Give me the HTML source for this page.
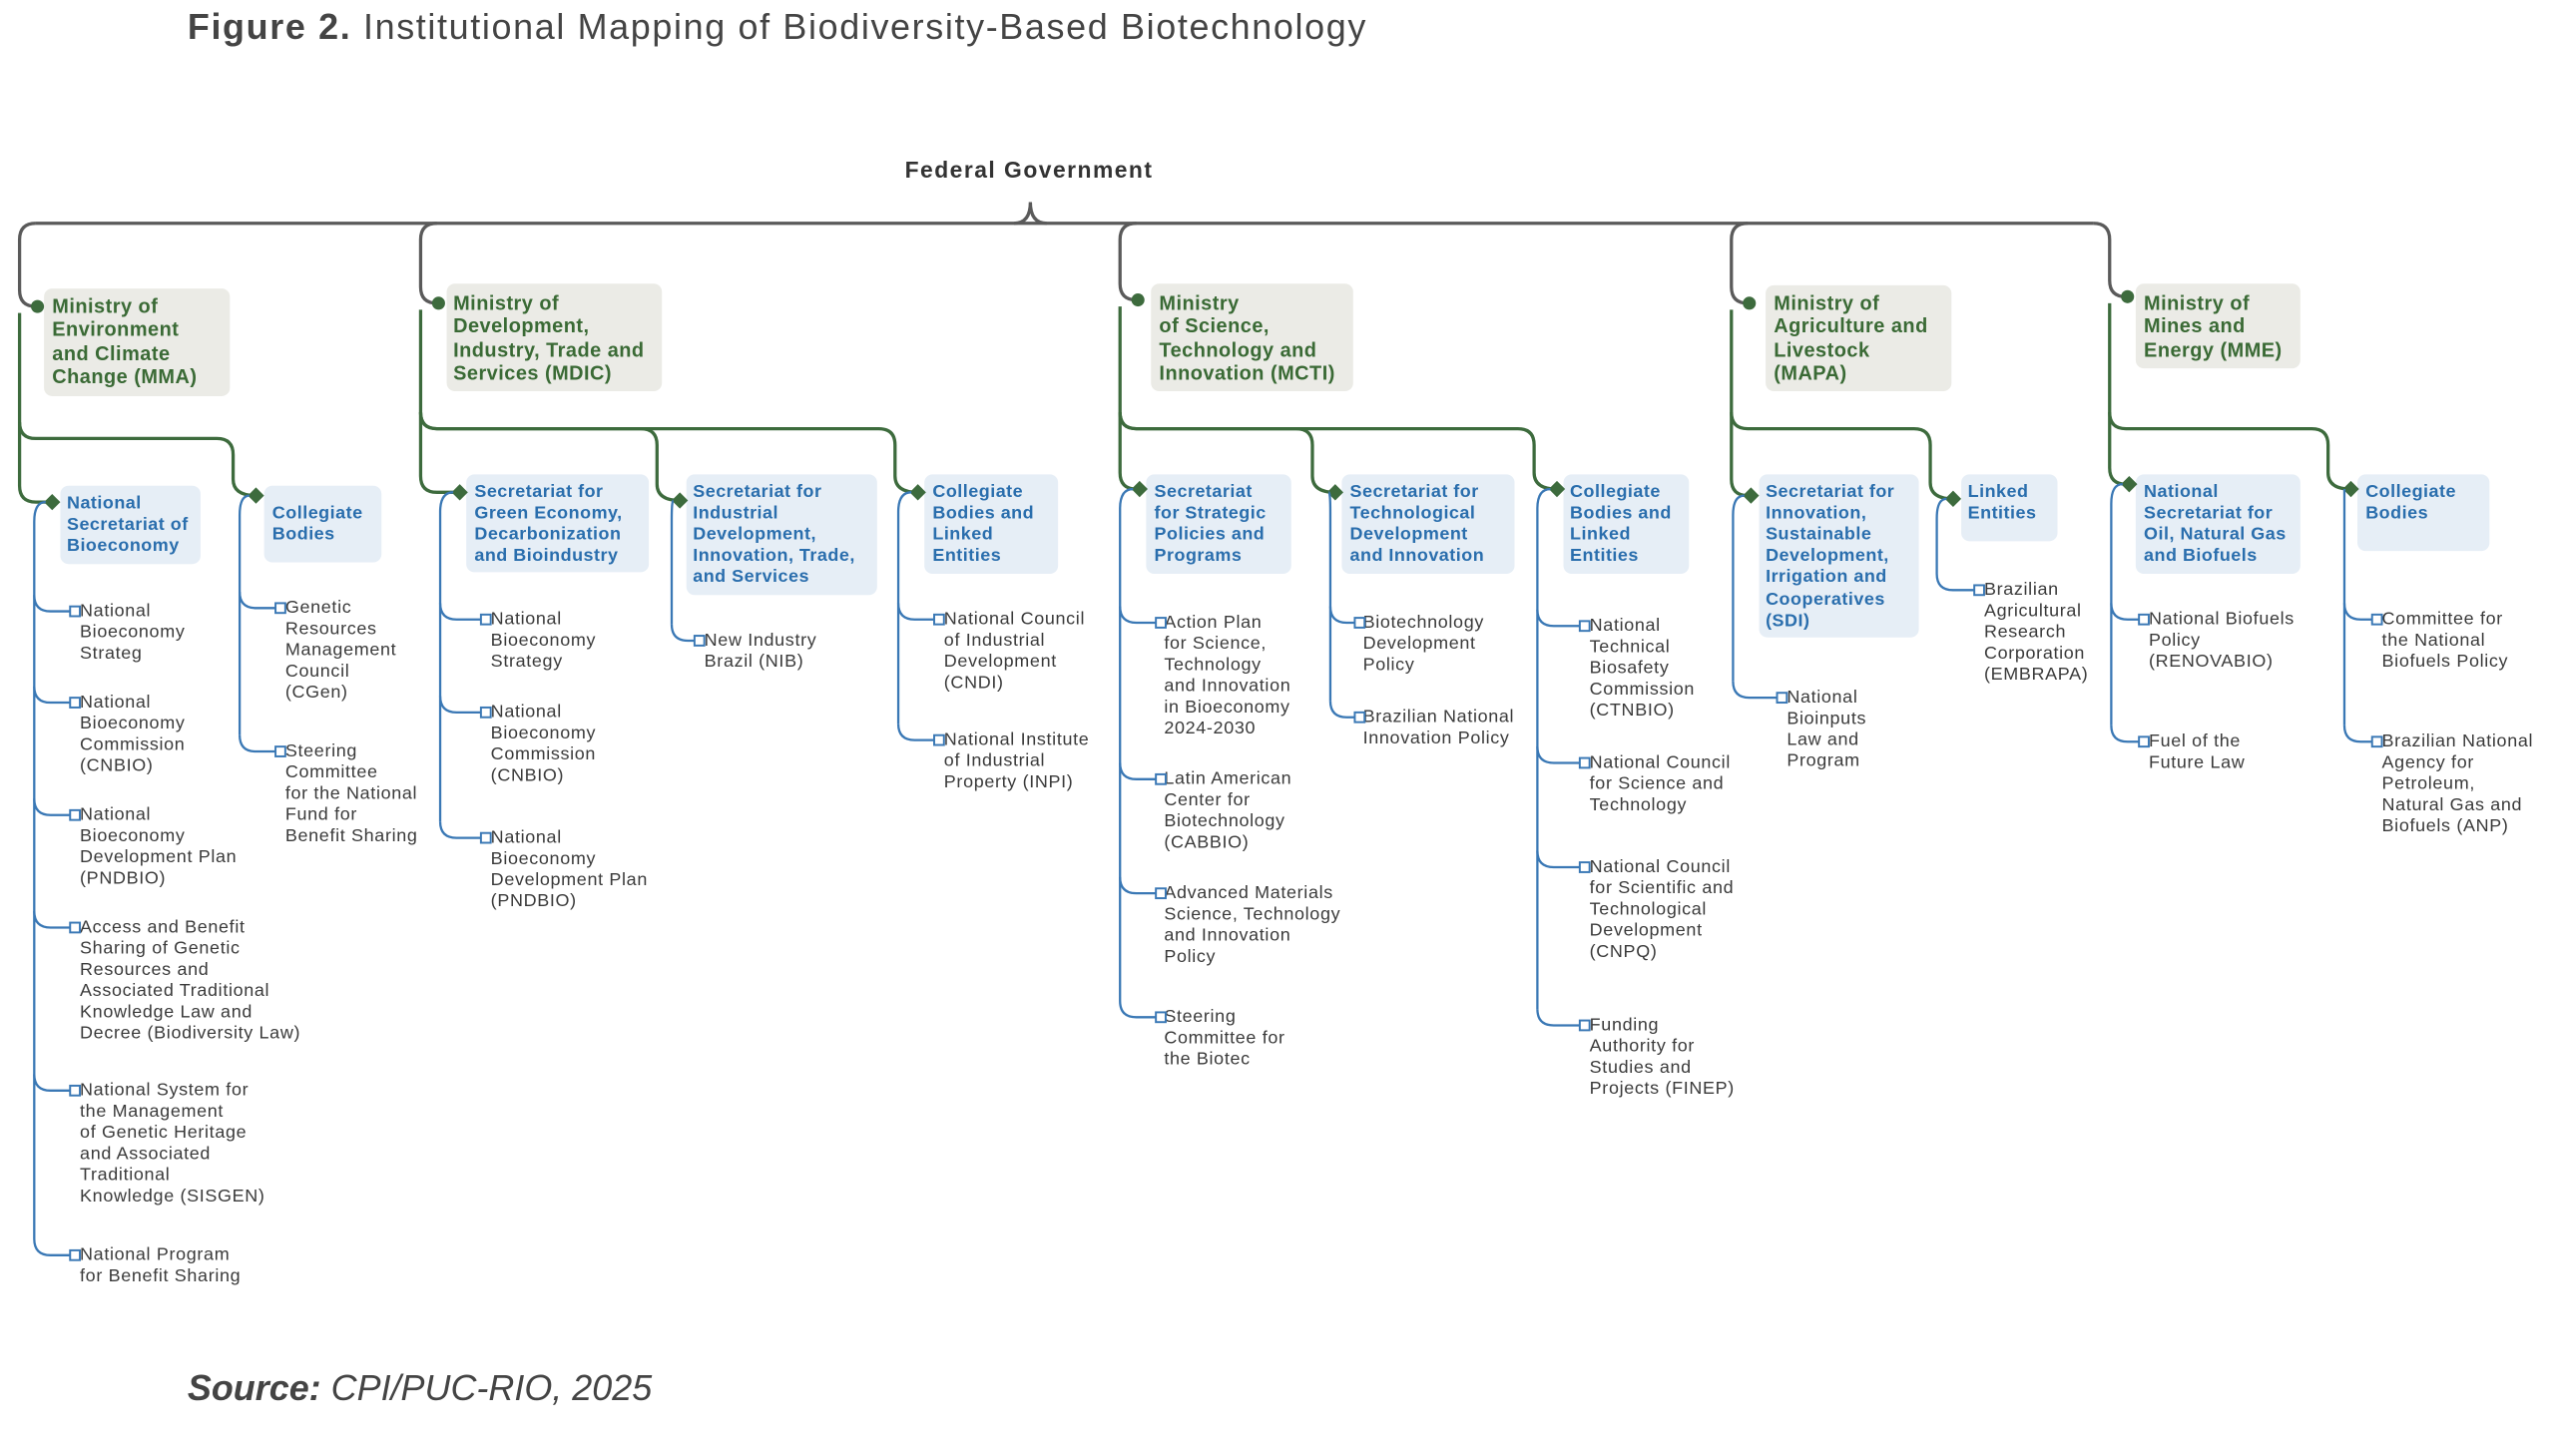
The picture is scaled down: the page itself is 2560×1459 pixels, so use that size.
<!DOCTYPE html>
<html><head><meta charset="utf-8"><style>
html,body{margin:0;padding:0;background:#fff;}
body{width:2560px;height:1458px;overflow:hidden;position:relative;}
#c{position:absolute;left:0;top:0;width:1567px;height:892.6px;transform:scale(1.6335);transform-origin:0 0;font-family:"Liberation Sans",sans-serif;}
#c svg{position:absolute;left:0;top:0;}
.t{position:absolute;white-space:nowrap;}
.m{position:absolute;background:#ebebe6;border-radius:5px;}
.s{position:absolute;background:#e6eef6;border-radius:5px;}
.mt{position:absolute;color:#3a6a35;font-weight:bold;font-size:12.2px;line-height:14.3px;white-space:nowrap;letter-spacing:0.3px;}
.st{position:absolute;color:#2a6ead;font-weight:bold;font-size:11px;line-height:13.2px;white-space:nowrap;letter-spacing:0.3px;}
.l{position:absolute;color:#3a3a3a;font-size:11px;line-height:13.1px;white-space:nowrap;letter-spacing:0.4px;}
</style></head><body><div id="c">
<div class="t" style="left:115px;top:4px;font-size:22px;color:#444;letter-spacing:1.0px;"><b>Figure 2.</b> <span style="font-weight:300;">Institutional Mapping of Biodiversity-Based Biotechnology</span></div>
<div class="t" style="left:555px;top:96px;font-size:14px;font-weight:bold;color:#333;letter-spacing:0.9px;">Federal Government</div>
<div class="t" style="left:115px;top:839px;font-size:22px;color:#444;font-style:italic;"><b>Source:</b> CPI/PUC-RIO, 2025</div>

<div class="m" style="left:27px;top:177px;width:114px;height:66px"></div>
<div class="m" style="left:274px;top:174px;width:132px;height:66px"></div>
<div class="m" style="left:706px;top:174px;width:124px;height:66px"></div>
<div class="m" style="left:1083px;top:175px;width:114px;height:65px"></div>
<div class="m" style="left:1310px;top:174px;width:101px;height:52px"></div>
<div class="mt" style="left:32px;top:181px">Ministry of<br>Environment<br>and Climate<br>Change (MMA)</div>
<div class="mt" style="left:278px;top:179px">Ministry of<br>Development,<br>Industry, Trade and<br>Services (MDIC)</div>
<div class="mt" style="left:711px;top:179px">Ministry<br>of Science,<br>Technology and<br>Innovation (MCTI)</div>
<div class="mt" style="left:1088px;top:179px">Ministry of<br>Agriculture and<br>Livestock<br>(MAPA)</div>
<div class="mt" style="left:1315px;top:179px">Ministry of<br>Mines and<br>Energy (MME)</div>

<div class="s" style="left:37px;top:298px;width:86px;height:48px"></div>
<div class="s" style="left:162px;top:298px;width:72px;height:47px"></div>
<div class="s" style="left:286px;top:291px;width:112px;height:60px"></div>
<div class="s" style="left:421px;top:291px;width:117px;height:74px"></div>
<div class="s" style="left:567px;top:291px;width:82px;height:61px"></div>
<div class="s" style="left:703px;top:291px;width:89px;height:61px"></div>
<div class="s" style="left:823px;top:291px;width:106px;height:61px"></div>
<div class="s" style="left:959px;top:291px;width:77px;height:61px"></div>
<div class="s" style="left:1079px;top:291px;width:98px;height:100px"></div>
<div class="s" style="left:1203px;top:291px;width:59px;height:41px"></div>
<div class="s" style="left:1310px;top:291px;width:101px;height:61px"></div>
<div class="s" style="left:1446px;top:291px;width:81px;height:47px"></div>

<div class="st" style="left:41px;top:302.5px">National<br>Secretariat of<br>Bioeconomy</div>
<div class="st" style="left:167px;top:308.5px">Collegiate<br>Bodies</div>
<div class="st" style="left:291px;top:295.5px">Secretariat for<br>Green Economy,<br>Decarbonization<br>and Bioindustry</div>
<div class="st" style="left:425px;top:295.5px">Secretariat for<br>Industrial<br>Development,<br>Innovation, Trade,<br>and Services</div>
<div class="st" style="left:572px;top:295.5px">Collegiate<br>Bodies and<br>Linked<br>Entities</div>
<div class="st" style="left:708px;top:295.5px">Secretariat<br>for Strategic<br>Policies and<br>Programs</div>
<div class="st" style="left:828px;top:295.5px">Secretariat for<br>Technological<br>Development<br>and Innovation</div>
<div class="st" style="left:963px;top:295.5px">Collegiate<br>Bodies and<br>Linked<br>Entities</div>
<div class="st" style="left:1083px;top:295.5px">Secretariat for<br>Innovation,<br>Sustainable<br>Development,<br>Irrigation and<br>Cooperatives<br>(SDI)</div>
<div class="st" style="left:1207px;top:295.5px">Linked<br>Entities</div>
<div class="st" style="left:1315px;top:295.5px">National<br>Secretariat for<br>Oil, Natural Gas<br>and Biofuels</div>
<div class="st" style="left:1451px;top:295.5px">Collegiate<br>Bodies</div>

<div class="l" style="left:49px;top:369px">National<br>Bioeconomy<br>Strateg</div>
<div class="l" style="left:49px;top:425px">National<br>Bioeconomy<br>Commission<br>(CNBIO)</div>
<div class="l" style="left:49px;top:494px">National<br>Bioeconomy<br>Development Plan<br>(PNDBIO)</div>
<div class="l" style="left:49px;top:563px">Access and Benefit<br>Sharing of Genetic<br>Resources and<br>Associated Traditional<br>Knowledge Law and<br>Decree (Biodiversity Law)</div>
<div class="l" style="left:49px;top:663px">National System for<br>the Management<br>of Genetic Heritage<br>and Associated<br>Traditional<br>Knowledge (SISGEN)</div>
<div class="l" style="left:49px;top:764px">National Program<br>for Benefit Sharing</div>
<div class="l" style="left:175px;top:367px">Genetic<br>Resources<br>Management<br>Council<br>(CGen)</div>
<div class="l" style="left:175px;top:455px">Steering<br>Committee<br>for the National<br>Fund for<br>Benefit Sharing</div>

<div class="l" style="left:301px;top:374px">National<br>Bioeconomy<br>Strategy</div>
<div class="l" style="left:301px;top:431px">National<br>Bioeconomy<br>Commission<br>(CNBIO)</div>
<div class="l" style="left:301px;top:508px">National<br>Bioeconomy<br>Development Plan<br>(PNDBIO)</div>
<div class="l" style="left:432px;top:387px">New Industry<br>Brazil (NIB)</div>
<div class="l" style="left:579px;top:374px">National Council<br>of Industrial<br>Development<br>(CNDI)</div>
<div class="l" style="left:579px;top:448px">National Institute<br>of Industrial<br>Property (INPI)</div>

<div class="l" style="left:714px;top:376px">Action Plan<br>for Science,<br>Technology<br>and Innovation<br>in Bioeconomy<br>2024-2030</div>
<div class="l" style="left:714px;top:472px">Latin American<br>Center for<br>Biotechnology<br>(CABBIO)</div>
<div class="l" style="left:714px;top:542px">Advanced Materials<br>Science, Technology<br>and Innovation<br>Policy</div>
<div class="l" style="left:714px;top:618px">Steering<br>Committee for<br>the Biotec</div>
<div class="l" style="left:836px;top:376px">Biotechnology<br>Development<br>Policy</div>
<div class="l" style="left:836px;top:434px">Brazilian National<br>Innovation Policy</div>
<div class="l" style="left:975px;top:378px">National<br>Technical<br>Biosafety<br>Commission<br>(CTNBIO)</div>
<div class="l" style="left:975px;top:462px">National Council<br>for Science and<br>Technology</div>
<div class="l" style="left:975px;top:526px">National Council<br>for Scientific and<br>Technological<br>Development<br>(CNPQ)</div>
<div class="l" style="left:975px;top:623px">Funding<br>Authority for<br>Studies and<br>Projects (FINEP)</div>

<div class="l" style="left:1096px;top:422px">National<br>Bioinputs<br>Law and<br>Program</div>
<div class="l" style="left:1217px;top:356px">Brazilian<br>Agricultural<br>Research<br>Corporation<br>(EMBRAPA)</div>
<div class="l" style="left:1318px;top:374px">National Biofuels<br>Policy<br>(RENOVABIO)</div>
<div class="l" style="left:1318px;top:449px">Fuel of the<br>Future Law</div>
<div class="l" style="left:1461px;top:374px">Committee for<br>the National<br>Biofuels Policy</div>
<div class="l" style="left:1461px;top:449px">Brazilian National<br>Agency for<br>Petroleum,<br>Natural Gas and<br>Biofuels (ANP)</div>

<svg id="g" width="1567" height="893" viewBox="0 0 1567 893"></svg>
</div>
<script>
var s='';
function P(d,c,w){s+='<path d="'+d+'" fill="none" stroke="'+c+'" stroke-width="'+w+'"/>';}
var G='#5a5a5a',GR='#3d6b3d',B='#3a78b5';
P('M22,137 L1284,137',G,2);
P('M622,137 Q632,137 632,124 Q632,137 642,137',G,2);
[[12,188],[258,186],[687,184],[1062,186],[1294,182]].forEach(function(a,i){
 var x=a[0],y=a[1];
 var start=(i==4)?'M'+(x-10)+',137 Q'+x+',137 '+x+',147':'M'+(x+10)+',137 Q'+x+',137 '+x+',147';
 P(start+' L'+x+','+(y-10)+' Q'+x+','+y+' '+(x+10)+','+y,G,2);
 s+='<circle cx="'+(x+11)+'" cy="'+y+'" r="4" fill="'+GR+'"/>';
});
var M=[
 {x:12,y:188,H:269,sub:[[32,308],[157,304]]},
 {x:258,y:186,H:263,sub:[[282,302],[417,307],[563,302]]},
 {x:687,y:184,H:263,sub:[[699,300],[819,302],[955,300]]},
 {x:1062,y:186,H:263,sub:[[1074,304],[1198,306]]},
 {x:1294,y:182,H:263,sub:[[1306,297],[1442,300]]}
];
M.forEach(function(m){
 var d=m.sub[0];
 P('M'+m.x+','+(m.y+4)+' L'+m.x+','+(d[1]-10)+' Q'+m.x+','+d[1]+' '+(m.x+10)+','+d[1]+' L'+d[0]+','+d[1],GR,2);
 for(var i=1;i<m.sub.length;i++){
  var e=m.sub[i],cx=e[0]-14;
  P('M'+m.x+','+(m.H-10)+' Q'+m.x+','+m.H+' '+(m.x+10)+','+m.H+' L'+(cx-10)+','+m.H+' Q'+cx+','+m.H+' '+cx+','+(m.H+10)+' L'+cx+','+(e[1]-10)+' Q'+cx+','+e[1]+' '+e[0]+','+e[1],GR,2);
 }
 m.sub.forEach(function(e){
  s+='<path d="M'+(e[0]-5)+','+e[1]+' L'+e[0]+','+(e[1]-5)+' L'+(e[0]+5)+','+e[1]+' L'+e[0]+','+(e[1]+5)+'Z" fill="'+GR+'"/>';
 });
});
var S=[
 [32,308,21,43,[375,431,500,569,669,770]],
 [157,304,147,169,[373,461]],
 [282,302,270,295,[380,437,514]],
 [417,307,412,426,[393]],
 [563,302,551,573,[380,454]],
 [699,300,687,709,[382,478,548,624]],
 [819,302,816,831,[382,440]],
 [955,300,943,969,[384,468,532,629]],
 [1074,304,1063,1090,[428]],
 [1198,306,1188,1211,[362]],
 [1306,297,1295,1312,[380,455]],
 [1442,300,1438,1455,[380,455]]
];
S.forEach(function(a){
 var dx=a[0],dy=a[1],V=a[2],q=a[3],L=a[4],last=L[L.length-1];
 P('M'+(dx-4)+','+dy+' Q'+V+','+dy+' '+V+','+(dy+12)+' L'+V+','+(last-10),B,1.4);
 L.forEach(function(y){
  P('M'+V+','+(y-10)+' Q'+V+','+y+' '+(V+10)+','+y+' L'+q+','+y,B,1.4);
  s+='<rect x="'+q+'" y="'+(y-3)+'" width="6" height="6" fill="#fff" stroke="'+B+'" stroke-width="1.2"/>';
 });
});
document.getElementById('g').innerHTML=s;
</script>
</body></html>
